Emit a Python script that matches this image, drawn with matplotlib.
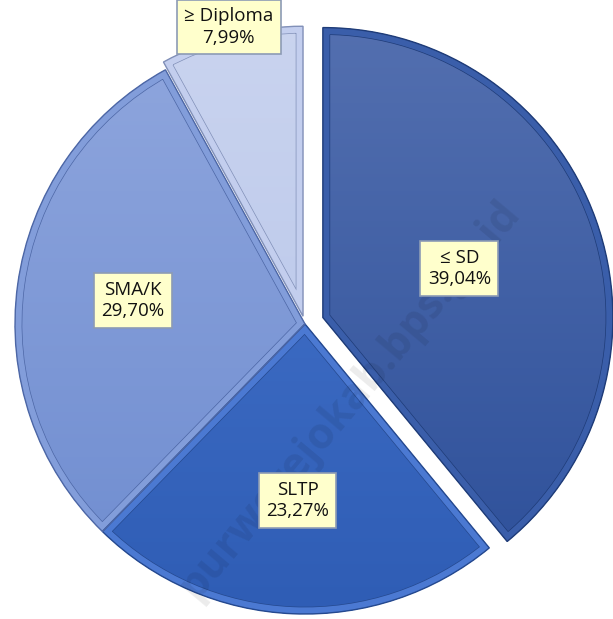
import numpy as np
import matplotlib.pyplot as plt
from matplotlib.colors import LinearSegmentedColormap
from matplotlib.patches import PathPatch

# data
labels = ["≤ SD", "SLTP", "SMA/K", "≥ Diploma"]
shares = [39.04, 23.27, 29.70, 7.99]

# styling per slice
explode_px = [19, 0, 0, 8]
grad_top = ["#5470B0", "#4877CF", "#90A7DE", "#CAD4EF"]
grad_bot = ["#2A4D98", "#2E5CB4", "#6D8BCF", "#B3C2E9"]
band_col = ["#3A5EAA", "#4B79D2", "#829DDA", "#C3CEEE"]
line_col = ["#1F3C78", "#25498F", "#4D67A6", "#8190B8"]
label_dist = [0.5, 0.61, 0.60, 1.03]

W, H = 613, 619
fig = plt.figure(figsize=(W / 100, H / 100), dpi=100)
ax = fig.add_axes([0, 0, 1, 1])

# axes units are pixels, so explode is given in pixels
cx, cy, R = 305, 295, 290
wedges, _ = ax.pie(shares, explode=explode_px, startangle=90, counterclock=False,
                   center=(cx, cy), radius=R, frame=True,
                   wedgeprops=dict(linewidth=0, edgecolor="none"))
ax.set_xlim(0, W)
ax.set_ylim(0, H)
ax.set_aspect("equal")
ax.axis("off")

grad = np.linspace(1, 0, 256).reshape(-1, 1)
for i, w in enumerate(wedges):
    w.set_facecolor(band_col[i])
    cmap = LinearSegmentedColormap.from_list("g%d" % i, [grad_bot[i], grad_top[i]])
    im = ax.imshow(grad, cmap=cmap, extent=[cx - R - 40, cx + R + 40, cy - R - 20, cy + R + 20],
                   aspect="auto", zorder=1.5)
    im.set_clip_path(w)
    path = w.get_patch_transform().transform_path(w.get_path())
    # bevel: band inside the edge with a thin dark line
    for lw, col in [(10.5, line_col[i]), (9.5, band_col[i])]:
        p = PathPatch(path, fill=False, edgecolor=col, linewidth=lw,
                      joinstyle="miter", zorder=2)
        ax.add_patch(p)
        p.set_clip_path(w)
    ax.add_patch(PathPatch(path, fill=False, edgecolor=line_col[i], linewidth=1.0,
                           joinstyle="miter", zorder=2.1))

    # label box
    ang = np.deg2rad((w.theta1 + w.theta2) / 2)
    wx, wy = w.center
    lx = wx + label_dist[i] * R * np.cos(ang)
    ly = wy + label_dist[i] * R * np.sin(ang)
    txt = "%s\n%s%%" % (labels[i], ("%.2f" % shares[i]).replace(".", ","))
    ax.text(lx, ly, txt, ha="center", va="center", fontsize=13.5,
            family=["Open Sans", "DejaVu Sans"], color="#111111", linespacing=1.25, zorder=5,
            bbox=dict(boxstyle="square,pad=0.4", facecolor="#FFFFCC", edgecolor="#8C9BB5", linewidth=1.2))

# watermark
ax.text(350, 220, "purworejokab.bps.go.id", rotation=50, ha="center", va="center",
        fontsize=31, fontweight="bold", color="#000000", alpha=0.08,
        family=["Open Sans", "DejaVu Sans"], zorder=4)

fig.savefig("out.png", dpi=100, facecolor="white")
